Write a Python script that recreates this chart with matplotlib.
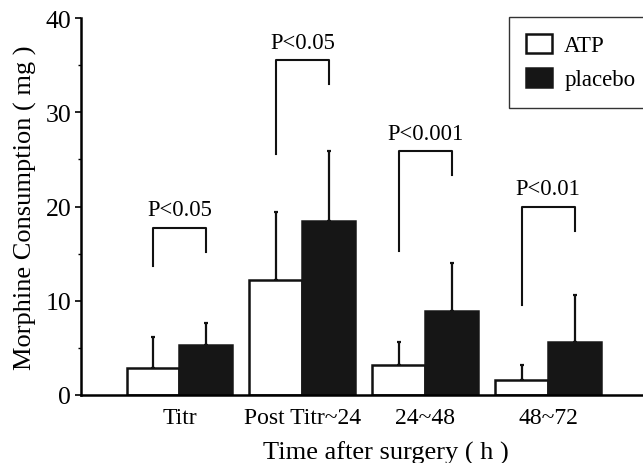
import matplotlib.pyplot as plt
import numpy as np

groups = ['Titr', 'Post Titr~24', '24~48', '48~72']
atp = [2.9, 12.2, 3.2, 1.55]
atp_sd = [3.3, 7.2, 2.45, 1.65]
placebo = [5.35, 18.5, 8.9, 5.65]
placebo_sd = [2.3, 7.35, 5.1, 4.95]

# significance brackets: top, left foot, right foot
bracket_top = [17.75, 35.5, 25.85, 20.0]
bracket_left = [13.65, 25.55, 15.3, 9.5]
bracket_right = [15.15, 33.0, 23.3, 17.45]
p_labels = ['P<0.05', 'P<0.05', 'P<0.001', 'P<0.01']

plt.rcParams['font.family'] = ['Liberation Serif', 'DejaVu Serif']

fig = plt.figure(figsize=(6.43, 4.64), dpi=100)
ax = fig.add_axes([0.126, 0.1466, 0.874, 0.8124])

x = np.arange(len(groups))
w = 0.43
ax.bar(x - w / 2, atp, w, color='white', edgecolor='#111111', linewidth=1.8, label='ATP', zorder=2)
ax.bar(x + w / 2, placebo, w, color='#161616', edgecolor='#161616', linewidth=1.8, label='placebo', zorder=2)
ax.errorbar(x - w / 2, atp, yerr=[np.zeros(4), atp_sd], fmt='none', ecolor='#111111',
            elinewidth=1.6, capsize=1.5, capthick=1.6, zorder=1)
ax.errorbar(x + w / 2, placebo, yerr=[np.zeros(4), placebo_sd], fmt='none', ecolor='#111111',
            elinewidth=1.6, capsize=1.5, capthick=1.6, zorder=1)

for i in range(len(groups)):
    xl, xr = x[i] - w / 2, x[i] + w / 2
    ax.plot([xl, xl, xr, xr], [bracket_left[i], bracket_top[i], bracket_top[i], bracket_right[i]],
            color='#111111', lw=1.5)
    ax.text(x[i], bracket_top[i] + 0.8, p_labels[i], ha='center', va='bottom', fontsize=16.3)

ax.set_xlim(-0.8, 3.77)
ax.set_ylim(0, 40)
ax.set_yticks([0, 10, 20, 30, 40])
ax.set_yticks([5, 15, 25, 35], minor=True)
ax.set_xticks(x)
ax.set_xticklabels(groups)
ax.tick_params(axis='x', length=0, labelsize=17, pad=9)
ax.tick_params(axis='y', which='major', length=4, width=1.2, labelsize=18.5, pad=3)
ax.tick_params(axis='y', which='minor', length=2, width=1)
for s in ['top', 'right']:
    ax.spines[s].set_visible(False)
ax.spines['left'].set_linewidth(1.8)
ax.spines['bottom'].set_linewidth(1.8)

ax.set_xlabel('Time after surgery ( h )', fontsize=19, labelpad=6)
ax.xaxis.set_label_coords(0.542, -0.12)
ax.set_ylabel('Morphine Consumption ( mg )', fontsize=19, labelpad=6)

leg = ax.legend(loc='upper right', bbox_to_anchor=(1.017, 1.003), fancybox=False, edgecolor='#333333',
                framealpha=1, fontsize=16.5, handlelength=1.1, handleheight=0.9, borderpad=0.75,
                labelspacing=0.5, handletextpad=0.55, borderaxespad=0.0)
leg.get_frame().set_linewidth(1.0)

plt.savefig('out.png', dpi=100)
